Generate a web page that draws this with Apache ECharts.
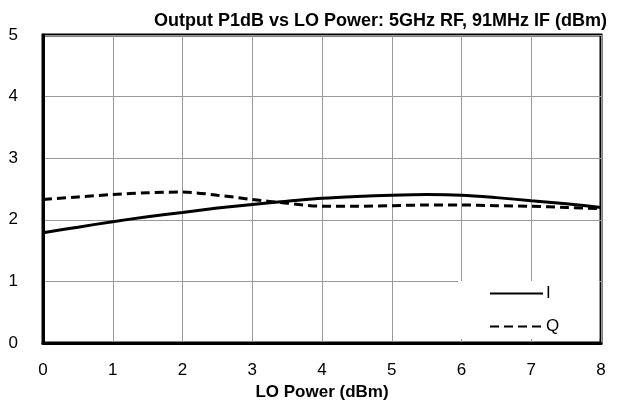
<!DOCTYPE html>
<html><head><meta charset="utf-8">
<script src="https://cdn.jsdelivr.net/npm/echarts@6/dist/echarts.min.js"></script>
<style>html,body{margin:0;padding:0;background:#fff}#c{width:629px;height:406px}</style>
</head><body><div id="c"></div>
<script>
const loPower = [0, 0.5, 1, 1.5, 2, 2.5, 3, 3.5, 4, 4.5, 5, 5.5, 6, 6.5, 7, 7.5, 8];
const iValues = [1.79, 1.88, 1.97, 2.05, 2.12, 2.19, 2.25, 2.30, 2.35, 2.38, 2.40, 2.41, 2.40, 2.36, 2.31, 2.26, 2.20];
const qValues = [2.33, 2.37, 2.41, 2.44, 2.45, 2.40, 2.33, 2.27, 2.22, 2.22, 2.23, 2.24, 2.24, 2.23, 2.22, 2.20, 2.18];
const xTicks = [0, 1, 2, 3, 4, 5, 6, 7, 8];
const yTicks = [0, 1, 2, 3, 4, 5];
const font = 'Liberation Sans, Arial, Helvetica, sans-serif';
const chart = echarts.init(document.getElementById('c'));
chart.setOption({
  animation: false,
  backgroundColor: '#fff',
  title: {
    text: 'Output P1dB vs LO Power: 5GHz RF, 91MHz IF (dBm)',
    right: 17, top: 7,
    textStyle: { fontFamily: font, fontWeight: 'bold', fontSize: 18, color: '#000' }
  },
  grid: { left: 43, right: 28, top: 35, bottom: 63, show: true, borderColor: '#000', borderWidth: 3, backgroundColor: 'transparent' },
  legend: {
    orient: 'vertical', left: 458, top: 281,
    backgroundColor: '#fff',
    padding: [4, 40, 4, 31],
    itemWidth: 53, itemHeight: 14, itemGap: 16,
    itemStyle: { opacity: 0, borderWidth: 0 },
    textStyle: { fontFamily: font, fontSize: 17, color: '#000', padding: [0, 0, 0, -2] },
    data: ['I', 'Q']
  },
  xAxis: {
    type: 'value', min: 0, max: 8, interval: 1,
    name: 'LO Power (dBm)', nameLocation: 'middle', nameGap: 40,
    nameTextStyle: { fontFamily: font, fontWeight: 'bold', fontSize: 17, color: '#000' },
    axisLine: { show: true, lineStyle: { color: '#000', width: 3 } },
    axisTick: { show: false },
    axisLabel: { fontFamily: font, fontSize: 17, color: '#000', margin: 19,
      formatter: v => xTicks.includes(v) ? String(v) : '' },
    splitLine: { show: true, lineStyle: { color: '#999', width: 1 } }
  },
  yAxis: {
    type: 'value', min: 0, max: 5, interval: 1,
    axisLine: { show: true, lineStyle: { color: '#000', width: 3 } },
    axisTick: { show: false },
    axisLabel: { fontFamily: font, fontSize: 17, color: '#000', margin: 25,
      formatter: v => yTicks.includes(v) ? String(v) : '' },
    splitLine: { show: true, lineStyle: { color: '#999', width: 1 } }
  },
  series: [
    { name: 'I', type: 'line', smooth: 0.3, symbol: 'none',
      data: loPower.map((x, i) => [x, iValues[i]]),
      lineStyle: { color: '#000', width: 3 }, itemStyle: { color: '#000' } },
    { name: 'Q', type: 'line', smooth: 0.3, symbol: 'none',
      data: loPower.map((x, i) => [x, qValues[i]]),
      lineStyle: { color: '#000', width: 3, type: [9, 5] }, itemStyle: { color: '#000' } }
  ]
});
</script></body></html>
